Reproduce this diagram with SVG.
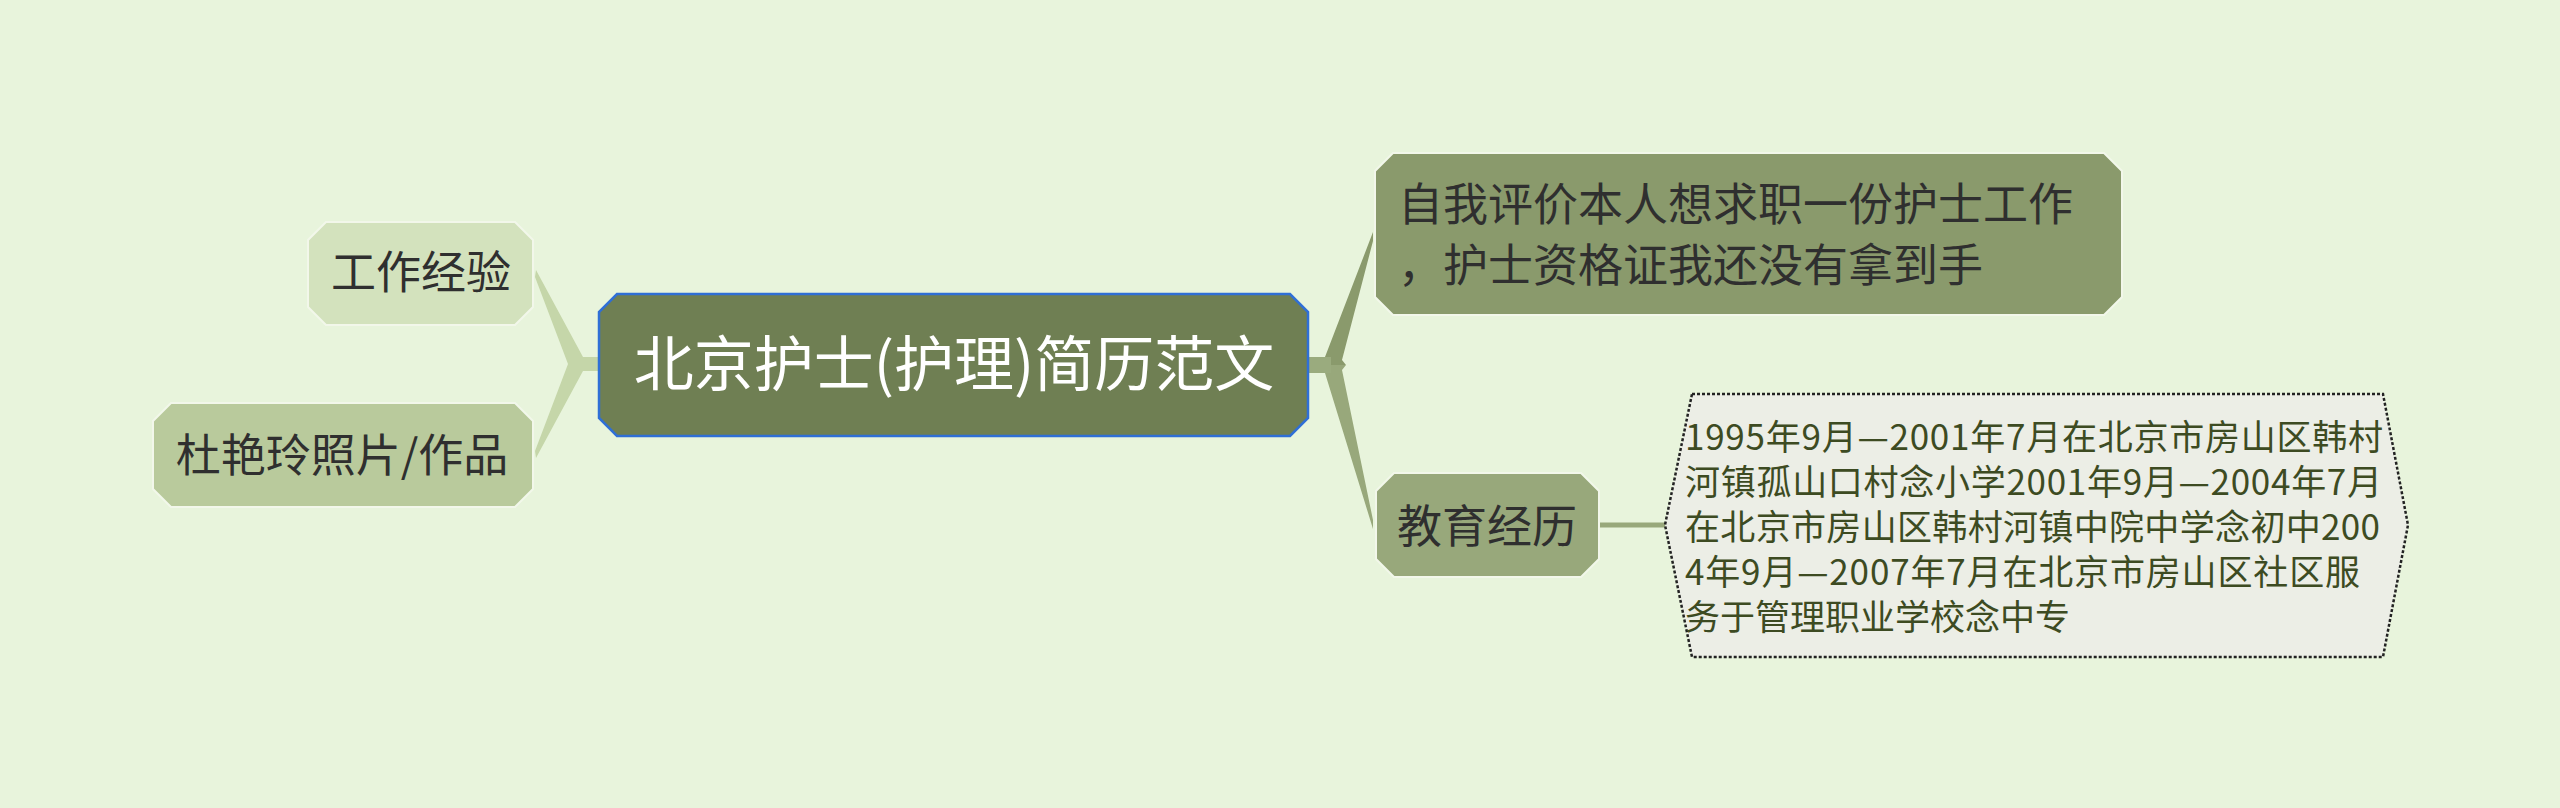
<svg xmlns="http://www.w3.org/2000/svg" width="2560" height="808" viewBox="0 0 2560 808">
<style>
.t{font-family:"Noto Sans CJK SC","Noto Sans",sans-serif;}
.sub{font-size:45px;fill:#2f2f2f;text-anchor:middle;}
.root{font-size:60px;fill:#ffffff;text-anchor:middle;}
.edu{font-size:35px;fill:#3d4b22;}
.nb{stroke:#f2f7ea;stroke-width:2;}
</style>
<rect x="0" y="0" width="2560" height="808" fill="#e8f4dc"/>
<g id="connectors">
<path d="M600,357 L583,357 L536,270 L535,277 L568,364 L535,451 L536,458 L583,371 L600,371 Z" fill="#c5d6a9"/>
<path d="M1307,357 L1325,357 L1373,232 L1373,241 L1342,360 L1346,365 L1307,365 Z" fill="#8a9a6c"/>
<path d="M1307,365 L1346,365 L1342,370 L1373,520 L1373,529 L1325,373 L1307,373 Z" fill="#98a87b"/>
<rect x="1307" y="357" width="24" height="16" fill="#9aab7e"/>
<line x1="1599" y1="525" x2="1666" y2="525" stroke="#98a87b" stroke-width="5"/>
</g>
<g id="node-root">
<polygon points="617,294 1290,294 1308,312 1308,418 1290,436 617,436 599,418 599,312" fill="#6f7f53" stroke="#2f6fd6" stroke-width="2.5"/>
<text class="t root" x="954" y="386">北京护士(护理)简历范文</text>
</g>
<g id="node-work">
<polygon class="nb" points="326,222 515,222 533,240 533,307 515,325 326,325 308,307 308,240" fill="#d3e2bd"/>
<text class="t sub" x="421" y="289">工作经验</text>
</g>
<g id="node-photo">
<polygon class="nb" points="171,403 515,403 533,421 533,489 515,507 171,507 153,489 153,421" fill="#b9ca9c"/>
<text class="t sub" x="342" y="472">杜艳玲照片/作品</text>
</g>
<g id="node-self">
<polygon class="nb" points="1393,153 2104,153 2122,171 2122,297 2104,315 1393,315 1375,297 1375,171" fill="#8a9a6c"/>
<text class="t" font-size="45" fill="#2f2f2f" x="1398" y="221">自我评价本人想求职一份护士工作</text>
<text class="t" font-size="45" fill="#2f2f2f" x="1398" y="282">，护士资格证我还没有拿到手</text>
</g>
<g id="node-edu">
<polygon class="nb" points="1394,473 1581,473 1599,491 1599,559 1581,577 1394,577 1376,559 1376,491" fill="#98a87b"/>
<text class="t sub" x="1487" y="543">教育经历</text>
</g>
<g id="node-edu-detail">
<polygon points="1692,394 2383,394 2408,525 2383,657 1692,657 1665,525" fill="#eceee6" stroke="#222222" stroke-width="2.5" stroke-dasharray="3 2"/>
<text class="t edu" x="1685" y="450" textLength="698">1995年9月—2001年7月在北京市房山区韩村</text>
<text class="t edu" x="1685" y="495" textLength="697">河镇孤山口村念小学2001年9月—2004年7月</text>
<text class="t edu" x="1685" y="540" textLength="695">在北京市房山区韩村河镇中院中学念初中200</text>
<text class="t edu" x="1685" y="585" textLength="675">4年9月—2007年7月在北京市房山区社区服</text>
<text class="t edu" x="1685" y="630">务于管理职业学校念中专</text>
</g>
</svg>
